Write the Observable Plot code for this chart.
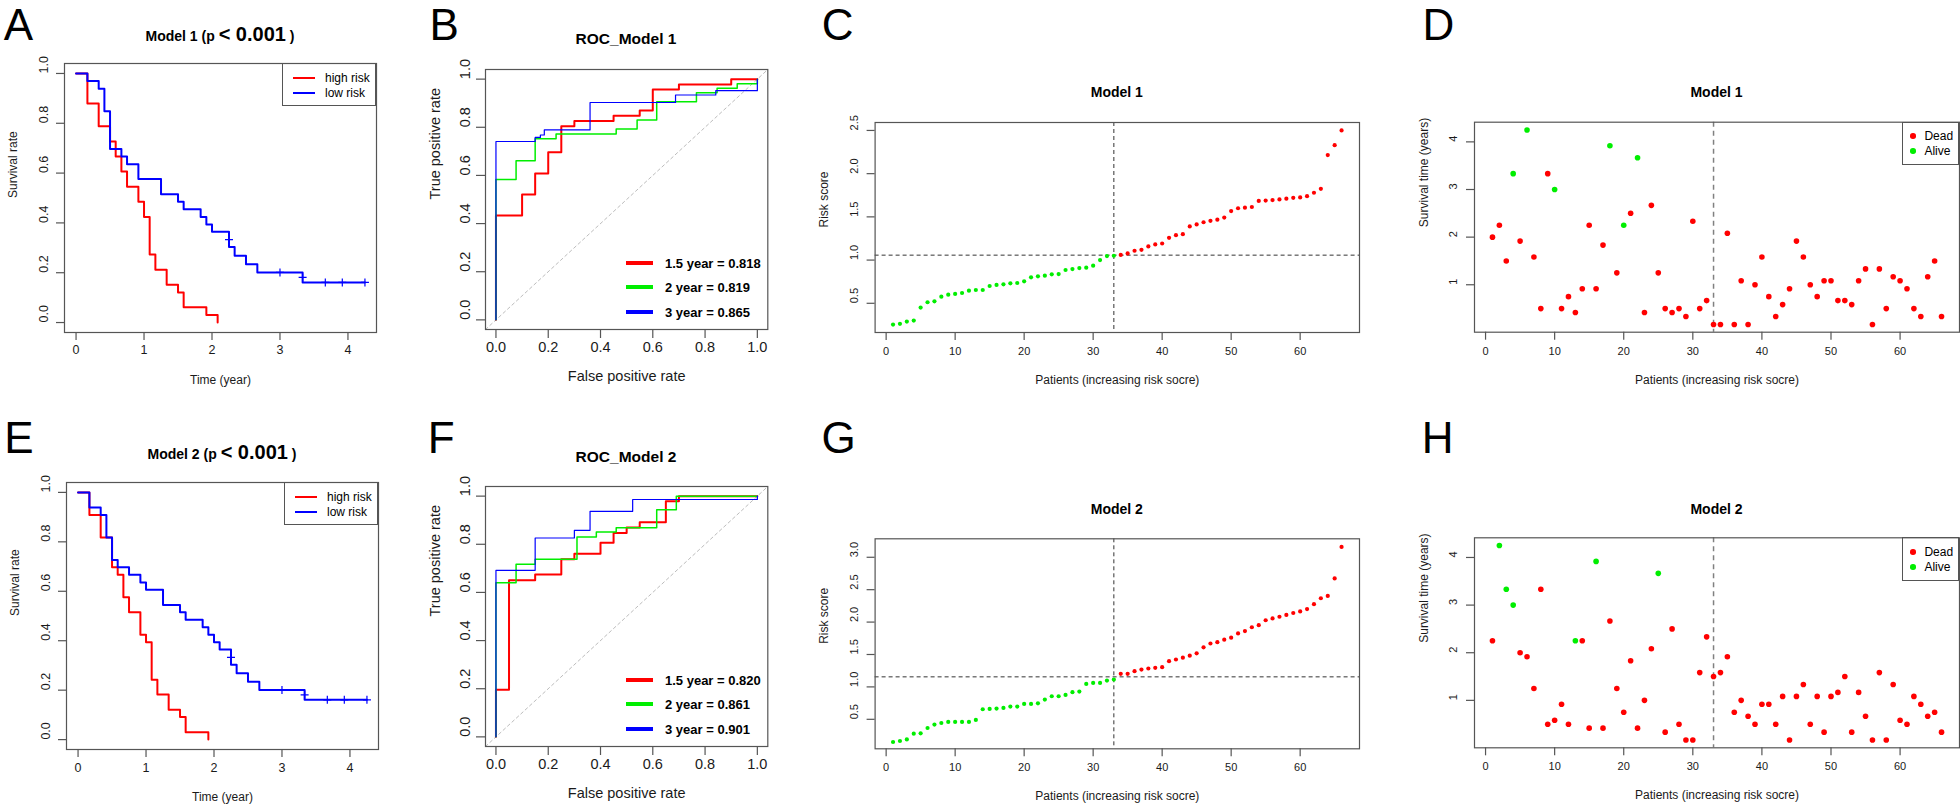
<!DOCTYPE html>
<html><head><meta charset="utf-8">
<script src="https://cdn.jsdelivr.net/npm/d3@7"></script>
<script src="https://cdn.jsdelivr.net/npm/@observablehq/plot@0.6"></script>
<style>
html,body{margin:0;padding:0;background:#fff;}
#fig{position:relative;width:1960px;height:810px;overflow:hidden;font-family:"Liberation Sans",Arial,Helvetica,sans-serif;color:#000;}
.letter{font-size:44px;line-height:0.8;transform:translate(-50%,-50%);white-space:nowrap;}
.ctitle{font-weight:bold;line-height:1;transform:translate(-50%,-50%);white-space:nowrap;}
</style></head>
<body><div id="fig"></div>
<script>
// ================= DATA =================
// Kaplan-Meier, Model 1
const km1HighTime = [0, 0.167, 0.333, 0.5, 0.583, 0.667, 0.75, 0.917, 1.0, 1.083, 1.167, 1.333, 1.5, 1.583, 1.917, 2.083];
const km1HighSurv = [1, 0.879, 0.788, 0.727, 0.667, 0.606, 0.545, 0.485, 0.424, 0.273, 0.212, 0.152, 0.121, 0.061, 0.030, 0];
const km1LowTime = [0, 0.167, 0.333, 0.417, 0.5, 0.667, 0.75, 0.917, 1.25, 1.5, 1.583, 1.833, 1.917, 2.0, 2.25, 2.333, 2.5, 2.667, 3.333, 4.25];
const km1LowSurv = [1, 0.970, 0.939, 0.848, 0.697, 0.667, 0.636, 0.576, 0.515, 0.485, 0.455, 0.424, 0.394, 0.364, 0.303, 0.268, 0.234, 0.201, 0.161, 0.161];
const km1CensorTime = [2.25, 3.0, 3.333, 3.667, 3.917, 4.25];
const km1CensorSurv = [0.333, 0.201, 0.181, 0.161, 0.161, 0.161];
// Kaplan-Meier, Model 2
const km2HighTime = [0, 0.167, 0.333, 0.5, 0.583, 0.667, 0.75, 0.917, 1.0, 1.083, 1.167, 1.333, 1.5, 1.583, 1.917];
const km2HighSurv = [1, 0.909, 0.818, 0.697, 0.667, 0.576, 0.515, 0.424, 0.394, 0.242, 0.182, 0.121, 0.091, 0.030, 0];
const km2LowTime = [0, 0.167, 0.333, 0.417, 0.5, 0.583, 0.75, 0.917, 1.0, 1.25, 1.5, 1.583, 1.833, 1.917, 2.0, 2.083, 2.25, 2.333, 2.5, 2.667, 3.333, 4.25];
const km2LowSurv = [1, 0.939, 0.909, 0.818, 0.727, 0.697, 0.667, 0.636, 0.606, 0.545, 0.515, 0.485, 0.455, 0.424, 0.394, 0.364, 0.303, 0.268, 0.234, 0.201, 0.161, 0.161];
const km2CensorTime = [2.25, 3.0, 3.333, 3.667, 3.917, 4.25];
const km2CensorSurv = [0.333, 0.201, 0.181, 0.161, 0.161, 0.161];
const kmGroups = ["high risk", "low risk"];
const kmPValue = "< 0.001";

// ROC, Model 1
const roc1Y15Fpr = [0, 0, 0.1, 0.15, 0.2, 0.25, 0.3, 0.45, 0.55, 0.6, 0.7, 0.9, 1];
const roc1Y15Tpr = [0, 0.434, 0.521, 0.608, 0.696, 0.804, 0.826, 0.848, 0.87, 0.957, 0.978, 1, 1];
const roc1Y2Fpr = [0, 0, 0.077, 0.15, 0.23, 0.46, 0.54, 0.615, 0.767, 0.846, 0.923, 1];
const roc1Y2Tpr = [0, 0.583, 0.661, 0.752, 0.772, 0.793, 0.83, 0.906, 0.943, 0.962, 0.981, 1];
const roc1Y3Fpr = [0, 0, 0.15, 0.17, 0.185, 0.36, 0.687, 0.841, 1];
const roc1Y3Tpr = [0, 0.741, 0.758, 0.768, 0.789, 0.903, 0.934, 0.952, 1];
// ROC, Model 2
const roc2Y15Fpr = [0, 0, 0.05, 0.15, 0.25, 0.3, 0.4, 0.45, 0.5, 0.55, 0.65, 0.7, 1];
const roc2Y15Tpr = [0, 0.196, 0.651, 0.674, 0.738, 0.761, 0.806, 0.847, 0.870, 0.892, 0.979, 1, 1];
const roc2Y2Fpr = [0, 0, 0.077, 0.15, 0.31, 0.384, 0.46, 0.615, 0.69, 1];
const roc2Y2Tpr = [0, 0.64, 0.717, 0.738, 0.83, 0.851, 0.869, 0.943, 1, 1];
const roc2Y3Fpr = [0, 0, 0.15, 0.3, 0.36, 0.36, 0.523, 1, 1];
const roc2Y3Tpr = [0, 0.692, 0.826, 0.858, 0.87, 0.937, 0.986, 0.986, 1];
const rocYears = ["1.5", "2", "3"];
const rocAuc1 = [0.818, 0.819, 0.865];
const rocAuc2 = [0.820, 0.861, 0.901];

// Risk score curves
const riskScore1 = [0.254,0.262,0.288,0.30,0.45,0.512,0.523,0.577,0.60,0.608,
  0.619,0.646,0.654,0.654,0.70,0.712,0.719,0.731,0.735,0.754,
  0.80,0.812,0.819,0.835,0.838,0.885,0.896,0.908,0.912,0.935,
  1.0,1.046,1.05,1.06,1.077,1.108,1.119,1.158,1.181,1.192,
  1.258,1.288,1.30,1.39,1.413,1.438,1.454,1.467,1.492,1.567,
  1.60,1.606,1.614,1.685,1.688,1.694,1.702,1.711,1.72,1.725,
  1.74,1.779,1.825,2.215,2.33,2.50];
const riskScore2 = [0.15,0.165,0.19,0.278,0.283,0.366,0.418,0.443,0.459,0.459,
  0.459,0.459,0.49,0.655,0.66,0.665,0.675,0.696,0.696,0.737,
  0.737,0.747,0.804,0.856,0.856,0.876,0.918,0.928,1.046,1.062,
  1.062,1.098,1.113,1.201,1.201,1.242,1.268,1.284,1.294,1.304,
  1.397,1.423,1.451,1.482,1.518,1.611,1.67,1.69,1.729,1.76,
  1.825,1.861,1.92,1.953,2.028,2.056,2.082,2.11,2.14,2.164,
  2.2,2.277,2.368,2.404,2.673,3.16];
const cutIndex1 = 33, cutScore1 = 1.057;
const cutIndex2 = 33, cutScore2 = 1.155;

// Survival status scatter
const survTime1 = [2.0,2.25,1.5,3.333,1.917,4.25,1.583,0.5,3.333,3.0,
  0.5,0.75,0.417,0.917,2.25,0.917,1.833,3.917,1.25,2.25,
  2.5,3.667,0.417,2.667,1.25,0.5,0.417,0.5,0.333,2.333,
  0.5,0.667,0.167,0.167,2.083,0.167,1.083,0.167,1.0,1.583,
  0.75,0.333,0.583,0.917,1.917,1.583,1.0,0.75,1.083,1.083,
  0.667,0.667,0.583,1.083,1.333,0.167,1.333,0.5,1.167,1.083,
  0.917,0.5,0.333,1.167,1.5,0.333];
const status1 = [1,1,1,0,1,0,1,1,1,0, 1,1,1,1,1,1,1,0,1,0, 1,0,1,1,1,1,1,1,1,1,
  1,1,1,1,1,1,1,1,1,1, 1,1,1,1,1,1,1,1,1,1, 1,1,1,1,1,1,1,1,1,1, 1,1,1,1,1,1];
const survTime2 = [2.25,4.25,3.333,3.0,2.0,1.917,1.25,3.333,0.5,0.583,
  0.917,0.5,2.25,2.25,0.417,3.917,0.417,2.667,1.25,0.75,
  1.833,0.417,1.0,2.083,3.667,0.333,2.5,0.5,0.167,0.167,
  1.583,2.333,1.5,1.583,1.917,0.75,1.0,0.667,0.5,0.917,
  0.917,0.5,1.083,0.167,1.083,1.333,0.5,1.083,0.333,1.083,
  1.167,1.5,0.333,1.167,0.667,0.167,1.583,0.167,1.333,0.583,
  0.5,1.083,0.917,0.667,0.75,0.333];
const status2 = [1,0,0,0,1,1,1,1,1,1, 1,1,0,1,1,0,1,1,1,1, 1,1,1,1,0,1,1,1,1,1,
  1,1,1,1,1,1,1,1,1,1, 1,1,1,1,1,1,1,1,1,1, 1,1,1,1,1,1,1,1,1,1, 1,1,1,1,1,1];
const statusLabels = ["Dead", "Alive"];

// Tick values
const kmXTicks = [0, 1, 2, 3, 4];
const probTicks = [0, 0.2, 0.4, 0.6, 0.8, 1.0];
const patientTicks = [0, 10, 20, 30, 40, 50, 60];
const riskTicks1 = [0.5, 1.0, 1.5, 2.0, 2.5];
const riskTicks2 = [0.5, 1.0, 1.5, 2.0, 2.5, 3.0];
const yearTicks = [1, 2, 3, 4];

// ================= DRAWING =================
const fig = document.getElementById("fig");
const FONT = '"Liberation Sans", Arial, Helvetica, sans-serif';
const RED = "#FF0000", GREEN = "#00EE00", BLUE = "#0000FF";
const AXIS = "#555555";

function addDiv(html, css, cls) {
  const d = document.createElement("div");
  d.innerHTML = html;
  if (cls) d.className = cls;
  d.style.position = "absolute";
  Object.assign(d.style, css);
  fig.appendChild(d);
  return d;
}

function panel(o) {
  const [bl, br, bt, bb] = o.box;
  const W = o.width, H = o.height;
  const mL = bl - o.left, mR = o.left + W - br, mT = bt - o.top, mB = o.top + H - bb;
  const fw = br - bl, fh = bb - bt;
  const tl = o.tickLen;
  const marks = [
    ...o.marks,
    Plot.frame({stroke: AXIS, strokeWidth: 1.2}),
    Plot.ruleX(o.xTicks, {x: d => d, insetTop: fh, insetBottom: -tl, stroke: AXIS, strokeWidth: 1.2}),
    Plot.ruleY(o.yTicks, {y: d => d, insetRight: fw, insetLeft: -tl, stroke: AXIS, strokeWidth: 1.2}),
    Plot.text(o.xTicks, {x: d => d, text: o.xFmt, frameAnchor: "bottom", dy: o.xTickOff, fontSize: o.tickFont, fill: "#1a1a1a"}),
    Plot.text(o.yTicks, {y: d => d, text: o.yFmt, frameAnchor: "left", dx: -o.yTickOff, rotate: -90, fontSize: o.tickFont, fill: "#1a1a1a"}),
    Plot.text([o.xLabel], {text: d => d, frameAnchor: "bottom", dy: o.xLabOff, fontSize: o.labFont, fill: "#1a1a1a"}),
    Plot.text([o.yLabel], {text: d => d, frameAnchor: "left", dx: -o.yLabOff, rotate: -90, fontSize: o.labFont, fill: "#1a1a1a"})
  ];
  const svg = Plot.plot({
    width: W, height: H,
    marginLeft: mL, marginRight: mR, marginTop: mT, marginBottom: mB,
    x: {domain: o.xDomain, axis: null},
    y: {domain: o.yDomain, axis: null},
    marks
  });
  svg.setAttribute("font-family", FONT);
  Object.assign(svg.style, {position: "absolute", left: o.left + "px", top: o.top + "px",
    background: "transparent", overflow: "visible", maxWidth: "none"});
  fig.appendChild(svg);
}

const pts = (xs, ys) => xs.map((x, i) => ({x, y: ys[i]}));
const fmt1 = d => d.toFixed(1);
const fmtInt = d => String(d);

// ---------- Kaplan-Meier panels ----------
function kmPanel(top, box, highT, highS, lowT, lowS, cenT, cenS, xTickOff) {
  panel({
    left: 0, top, width: 395, height: 405, box,
    xDomain: [-0.17, 4.42], yDomain: [-0.04, 1.04],
    xTicks: kmXTicks, yTicks: probTicks, xFmt: fmtInt, yFmt: fmt1,
    tickLen: 8, tickFont: 12.5, labFont: 12, xTickOff, yTickOff: 21, xLabOff: 51.5, yLabOff: 51,
    xLabel: "Time (year)", yLabel: "Survival rate",
    marks: [
      Plot.line(pts(highT, highS), {x: "x", y: "y", curve: "step-after", stroke: RED, strokeWidth: 2}),
      Plot.line(pts(lowT, lowS), {x: "x", y: "y", curve: "step-after", stroke: BLUE, strokeWidth: 2}),
      Plot.dot(pts(cenT, cenS), {x: "x", y: "y", symbol: "plus", r: 2.7, stroke: BLUE, strokeWidth: 1.2})
    ]
  });
  // legend
  const L = box[1] - 94, T = box[2];
  addDiv("", {left: L + "px", top: T + "px", width: "94px", height: "43px", border: "1.2px solid " + AXIS, boxSizing: "border-box"});
  [RED, BLUE].forEach((c, i) => {
    const y = T + 15 + i * 14.5;
    addDiv("", {left: (L + 11) + "px", top: (y - 1) + "px", width: "22px", height: "2px", background: c});
    addDiv(kmGroups[i], {left: (L + 43) + "px", top: y + "px", transform: "translateY(-50%)", fontSize: "12px", lineHeight: "1", whiteSpace: "nowrap"});
  });
}
kmPanel(0, [64, 376, 63, 332], km1HighTime, km1HighSurv, km1LowTime, km1LowSurv, km1CensorTime, km1CensorSurv, 21.5);
kmPanel(405, [66, 378, 482, 749], km2HighTime, km2HighSurv, km2LowTime, km2LowSurv, km2CensorTime, km2CensorSurv, 22.5);

// ---------- ROC panels ----------
function rocPanel(top, box, curves, aucs) {
  const dom = [-0.04, 1.04];
  const cols = [RED, GREEN, BLUE], widths = [2, 1.5, 1.2];
  panel({
    left: 395, top, width: 385, height: 405, box,
    xDomain: dom, yDomain: dom,
    xTicks: probTicks, yTicks: probTicks, xFmt: fmt1, yFmt: fmt1,
    tickLen: 9, tickFont: 14.5, labFont: 14.5, xTickOff: 22.5, yTickOff: 20, xLabOff: 51.5, yLabOff: 50,
    xLabel: "False positive rate", yLabel: "True positive rate",
    marks: [
      Plot.line(dom, {x: d => d, y: d => d, stroke: "#bdbdbd", strokeWidth: 1, strokeDasharray: "3,3"}),
      ...curves.map((c, i) => Plot.line(pts(c[0], c[1]), {x: "x", y: "y", curve: "step-after", stroke: cols[i], strokeWidth: widths[i]}))
    ]
  });
  const offs = [-66, -42, -17.5];
  cols.forEach((c, i) => {
    const y = box[3] + offs[i];
    addDiv("", {left: (box[0] + 141) + "px", top: (y - 2) + "px", width: "27px", height: "4px", background: c});
    addDiv(`${rocYears[i]} year = ${aucs[i].toFixed(3)}`, {left: (box[0] + 180) + "px", top: y + "px", transform: "translateY(-50%)", fontSize: "13px", fontWeight: "bold", lineHeight: "1", whiteSpace: "nowrap"});
  });
}
rocPanel(0, [485, 767.3, 69, 329], [[roc1Y15Fpr, roc1Y15Tpr], [roc1Y2Fpr, roc1Y2Tpr], [roc1Y3Fpr, roc1Y3Tpr]], rocAuc1);
rocPanel(405, [485, 767.3, 486, 746], [[roc2Y15Fpr, roc2Y15Tpr], [roc2Y2Fpr, roc2Y2Tpr], [roc2Y3Fpr, roc2Y3Tpr]], rocAuc2);

// ---------- Risk score panels ----------
function riskPanel(top, box, scores, cutI, cutS, yDomain, yTicks) {
  const data = scores.map((v, i) => ({x: i + 1, y: v}));
  panel({
    left: 780, top, width: 600, height: 405, box,
    xDomain: [-1.6, 68.6], yDomain,
    xTicks: patientTicks, yTicks, xFmt: fmtInt, yFmt: fmt1,
    tickLen: 8, tickFont: 11, labFont: 12, xTickOff: 22.5, yTickOff: 21, xLabOff: 51.5, yLabOff: 51,
    xLabel: "Patients (increasing risk socre)", yLabel: "Risk score",
    marks: [
      Plot.ruleX([cutI], {x: d => d, stroke: "#333", strokeWidth: 1, strokeDasharray: "4,3"}),
      Plot.ruleY([cutS], {y: d => d, stroke: "#333", strokeWidth: 1, strokeDasharray: "4,3"}),
      Plot.dot(data, {x: "x", y: "y", filter: d => d.x <= cutI, fill: GREEN, r: 2.1}),
      Plot.dot(data, {x: "x", y: "y", filter: d => d.x > cutI, fill: RED, r: 2.1})
    ]
  });
}
riskPanel(0, [874.6, 1359, 122, 332], riskScore1, cutIndex1, cutScore1, [0.162, 2.592], riskTicks1);
riskPanel(405, [874.6, 1359, 538.3, 748.3], riskScore2, cutIndex2, cutScore2, [0.045, 3.285], riskTicks2);

// ---------- Survival status panels ----------
function statusPanel(top, box, times, status, cutI) {
  const data = times.map((v, i) => ({x: i + 1, y: v, dead: status[i] === 1}));
  panel({
    left: 1380, top, width: 580, height: 405, box,
    xDomain: [-1.6, 68.6], yDomain: [0.004, 4.413],
    xTicks: patientTicks, yTicks: yearTicks, xFmt: fmtInt, yFmt: fmtInt,
    tickLen: 8, tickFont: 11, labFont: 12, xTickOff: 22.5, yTickOff: 21, xLabOff: 51.5, yLabOff: 50.6,
    xLabel: "Patients (increasing risk socre)", yLabel: "Survival time (years)",
    marks: [
      Plot.ruleX([cutI], {x: d => d, stroke: "#808080", strokeWidth: 1.5, strokeDasharray: "5,4"}),
      Plot.dot(data, {x: "x", y: "y", filter: d => d.dead, fill: RED, r: 2.8}),
      Plot.dot(data, {x: "x", y: "y", filter: d => !d.dead, fill: GREEN, r: 2.8})
    ]
  });
  const L = box[1] - 57, T = box[2];
  addDiv("", {left: L + "px", top: T + "px", width: "57px", height: "43.5px", border: "1.2px solid " + AXIS, boxSizing: "border-box"});
  [RED, GREEN].forEach((c, i) => {
    const y = T + 14.5 + i * 15;
    addDiv("", {left: (L + 11 - 2.8) + "px", top: (y - 2.8) + "px", width: "5.6px", height: "5.6px", borderRadius: "50%", background: c});
    addDiv(statusLabels[i], {left: (L + 22.4) + "px", top: y + "px", transform: "translateY(-50%)", fontSize: "12px", lineHeight: "1", whiteSpace: "nowrap"});
  });
}
statusPanel(0, [1474, 1959, 121.7, 331.7], survTime1, status1, cutIndex1);
statusPanel(405, [1474, 1959, 537.3, 747.3], survTime2, status2, cutIndex2);

// ---------- Titles ----------
function kmTitle(model, cx, baseline) {
  addDiv(`Model ${model} (p <span style="font-size:20px">${kmPValue.replace("<", "&lt;")}</span> )`,
    {left: cx + "px", top: (baseline - 16.93) + "px", transform: "translateX(-50%)", fontSize: "14px",
     lineHeight: "20px", fontWeight: "bold", whiteSpace: "nowrap"});
}
kmTitle(1, 220, 41);
kmTitle(2, 222, 458.5);
addDiv("ROC_Model 1", {left: "626px", top: "39.3px", fontSize: "15.5px"}, "ctitle");
addDiv("ROC_Model 2", {left: "626px", top: "456.7px", fontSize: "15.5px"}, "ctitle");
addDiv("Model 1", {left: "1116.8px", top: "91.7px", fontSize: "14px"}, "ctitle");
addDiv("Model 2", {left: "1116.8px", top: "509.3px", fontSize: "14px"}, "ctitle");
addDiv("Model 1", {left: "1716.5px", top: "91.7px", fontSize: "14px"}, "ctitle");
addDiv("Model 2", {left: "1716.5px", top: "509.3px", fontSize: "14px"}, "ctitle");

// ---------- Panel letters ----------
const letters = [["A", 18.4, 25], ["B", 444.3, 25], ["C", 837.7, 25], ["D", 1438.4, 25],
                 ["E", 19, 437.5], ["F", 441.3, 437.5], ["G", 838.6, 437.5], ["H", 1437.6, 437.5]];
letters.forEach(([t, x, y]) => addDiv(t, {left: x + "px", top: y + "px"}, "letter"));
</script>
</body></html>
